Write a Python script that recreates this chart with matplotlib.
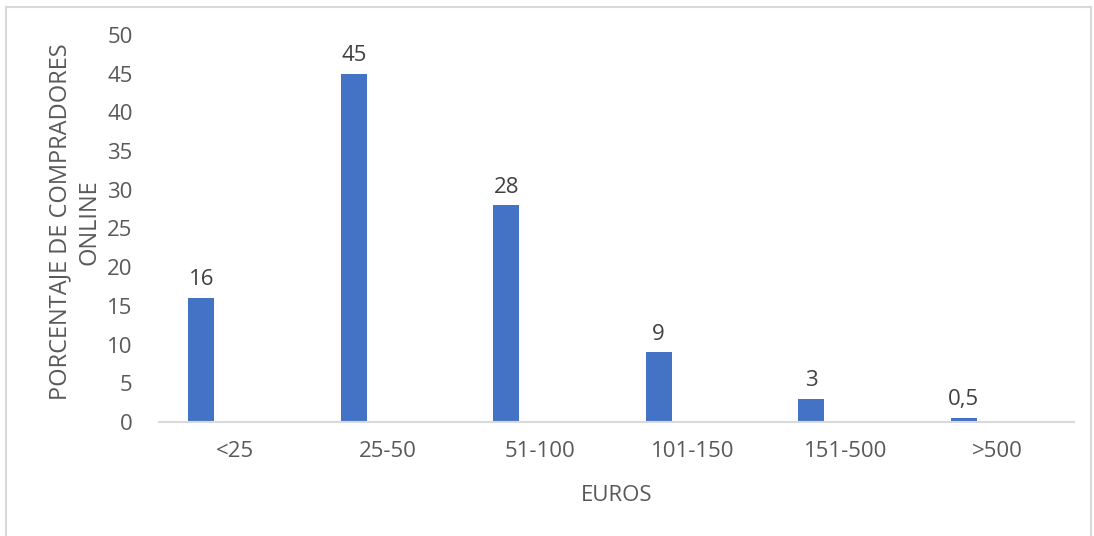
import matplotlib.pyplot as plt
from matplotlib.patches import Rectangle
import numpy as np

categories = ['<25', '25-50', '51-100', '101-150', '151-500', '>500']
values = [16, 45, 28, 9, 3, 0.5]
labels = ['16', '45', '28', '9', '3', '0,5']

plt.rcParams['font.family'] = ['Open Sans', 'DejaVu Sans']
gray = '#595959'
fs = 16

fig = plt.figure(figsize=(10.94, 5.36), dpi=100)
ax = fig.add_axes([159 / 1094, 1 - 422 / 536, 915 / 1094, 387 / 536])

x = np.arange(len(categories))
bars = ax.bar(x - 0.223, values, width=0.17, color='#4472C4')

for b, t in zip(bars, labels):
    ax.text(b.get_x() + b.get_width() / 2, b.get_height() + 1.0, t,
            ha='center', va='bottom', fontsize=fs, color='#404040')

ax.set_xlim(-0.5, len(categories) - 0.5)
ax.set_ylim(0, 50)
ax.set_yticks(range(0, 51, 5))
ax.set_xticks(x)
ax.set_xticklabels(categories)
ax.tick_params(axis='both', length=0, labelsize=fs, colors=gray)
ax.tick_params(axis='y', pad=19)
ax.tick_params(axis='x', pad=14)

for s in ['top', 'right', 'left']:
    ax.spines[s].set_visible(False)
ax.spines['bottom'].set_color('#d9d9d9')
ax.spines['bottom'].set_linewidth(1.5)

ax.set_xlabel('EUROS', fontsize=fs, color=gray, labelpad=16)
fig.text(75 / 1094, 1 - 222 / 536, 'PORCENTAJE DE COMPRADORES\nONLINE', rotation=90,
         ha='center', va='center', fontsize=17, color=gray, linespacing=1.3)

fig.patches.append(Rectangle((5.5 / 1094, -0.1), 1085 / 1094, 1.1 - 6.5 / 536,
                             transform=fig.transFigure, fill=False,
                             edgecolor='#d9d9d9', linewidth=1.5))

fig.savefig('out.png', dpi=100)
